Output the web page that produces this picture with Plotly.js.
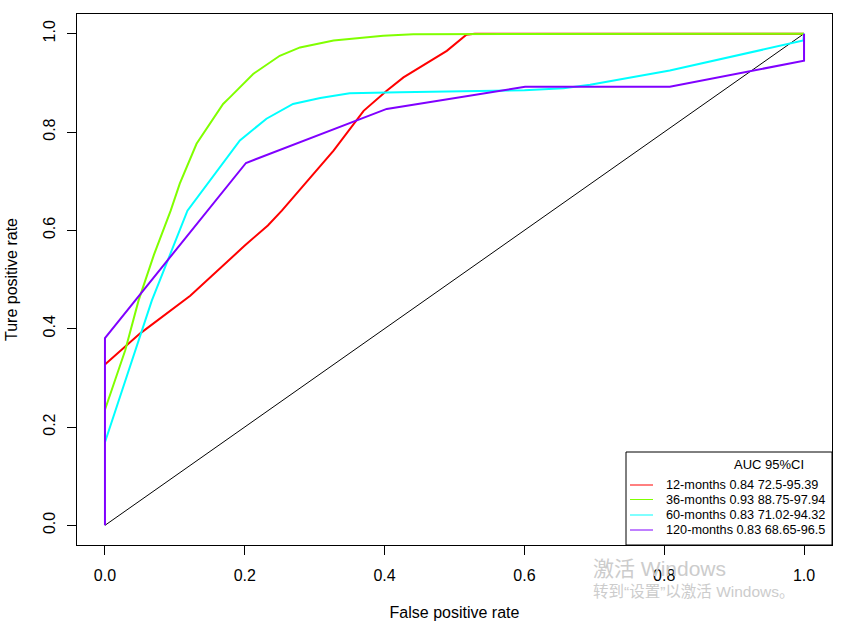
<!DOCTYPE html>
<html>
<head>
<meta charset="utf-8">
<script src="https://cdn.plot.ly/plotly-3.0.1.min.js"></script>
<style>html,body{margin:0;padding:0;background:#fff;}#chart{width:856px;height:623px;}</style>
</head>
<body>
<div id="chart"></div>
<script>
// Series (false positive rate, true positive rate)
const names = ["12-months 0.84 72.5-95.39", "36-months 0.93 88.75-97.94", "60-months 0.83 71.02-94.32", "120-months 0.83 68.65-96.5"];
const colors = ["#FF0000", "#80FF00", "#00FFFF", "#8000FF"];
const legendTitle = "AUC 95%CI";

const fpr12 = [0, 0.05, 0.122, 0.2, 0.233, 0.253, 0.327, 0.370, 0.403, 0.427, 0.489, 0.517, 0.529, 1];
const tpr12 = [0.327, 0.39, 0.467, 0.569, 0.61, 0.64, 0.762, 0.843, 0.884, 0.911, 0.965, 0.998, 1, 1];

const fpr36 = [0, 0.029, 0.048, 0.07, 0.094, 0.107, 0.131, 0.148, 0.169, 0.179, 0.212, 0.25, 0.279, 0.327, 0.398, 0.441, 1];
const tpr36 = [0.235, 0.356, 0.457, 0.55, 0.64, 0.695, 0.776, 0.813, 0.857, 0.871, 0.918, 0.955, 0.972, 0.986, 0.996, 0.999, 1];

const fpr60 = [0, 0.052, 0.067, 0.118, 0.193, 0.231, 0.269, 0.308, 0.350, 0.422, 0.6, 0.656, 0.694, 0.808, 0.999, 1];
const tpr60 = [0.169, 0.39, 0.457, 0.64, 0.783, 0.827, 0.857, 0.869, 0.879, 0.881, 0.885, 0.889, 0.896, 0.925, 0.986, 1];

const fpr120 = [0, 0, 0.2017, 0.403, 0.601, 0.808, 1, 1];
const tpr120 = [0, 0.381, 0.737, 0.847, 0.892, 0.892, 0.945, 1];

const diagX = [0, 1];
const diagY = [0, 1];

const tickVals = [0, 0.2, 0.4, 0.6, 0.8, 1.0];
const tickText = ["0.0", "0.2", "0.4", "0.6", "0.8", "1.0"];

const xs = [fpr12, fpr36, fpr60, fpr120];
const ys = [tpr12, tpr36, tpr60, tpr120];

const traces = [{
  x: diagX, y: diagY, type: "scatter", mode: "lines",
  line: {color: "#000000", width: 1}, showlegend: false, hoverinfo: "skip"
}];
for (let i = 0; i < 4; i++) {
  traces.push({
    x: xs[i], y: ys[i], type: "scatter", mode: "lines", name: names[i],
    line: {color: colors[i], width: 2}, showlegend: false
  });
}

// Plot area geometry (pixels) used to place the legend box in paper coordinates
const W = 856, H = 623, ML = 77, MR = 24, MT = 14, MB = 78;
const PW = W - ML - MR, PH = H - MT - MB;
const px = v => (v - ML) / PW;
const py = v => (H - MB - v) / PH;

const FAM = "Liberation Sans, Arial, sans-serif";
const shapes = [
  {type: "rect", xref: "paper", yref: "paper", x0: px(626), x1: px(832), y0: py(452), y1: py(545),
   line: {color: "#000", width: 1}, fillcolor: "#fff", layer: "above"}
];
const annotations = [
  {xref: "paper", yref: "paper", x: px(769), y: py(464), xanchor: "center", yanchor: "middle",
   text: legendTitle, showarrow: false, font: {family: FAM, size: 13, color: "#000"}}
];
const rowY = [485, 499.5, 515, 530];
for (let i = 0; i < names.length; i++) {
  shapes.push({type: "line", xref: "paper", yref: "paper", x0: px(630), x1: px(653), y0: py(rowY[i]), y1: py(rowY[i]),
    line: {color: colors[i], width: 1}, layer: "above"});
  annotations.push({xref: "paper", yref: "paper", x: px(664), y: py(rowY[i]), xanchor: "left", yanchor: "middle",
    text: names[i], showarrow: false, font: {family: FAM, size: 12.7, color: "#000"}});
}
annotations.push(
  {xref: "paper", yref: "paper", x: px(591), y: py(568), xanchor: "left", yanchor: "middle",
   text: "激活 Windows", showarrow: false, font: {family: "Liberation Sans, Noto Sans CJK SC, sans-serif", size: 21, color: "#cccccc"}},
  {xref: "paper", yref: "paper", x: px(591), y: py(591), xanchor: "left", yanchor: "middle",
   text: "转到“设置”以激活 Windows。", showarrow: false, font: {family: "Liberation Sans, Noto Sans CJK SC, sans-serif", size: 15.5, color: "#cccccc"}}
);

const layout = {
  width: W, height: H,
  margin: {l: ML, r: MR, t: MT, b: MB},
  paper_bgcolor: "#fff", plot_bgcolor: "#fff",
  font: {family: FAM, size: 16, color: "#000"},
  showlegend: false,
  xaxis: {
    range: [-0.04, 1.04], showgrid: false, zeroline: false,
    showline: true, mirror: true, linecolor: "#000", linewidth: 1,
    ticks: "outside", ticklen: 9, tickcolor: "#000", tickwidth: 1,
    tickvals: tickVals, ticktext: tickText, ticklabelstandoff: 7,
    tickfont: {family: FAM, size: 16, color: "#000"},
    title: {text: "False positive rate", font: {family: FAM, size: 16, color: "#000"}, standoff: 23},
    automargin: false
  },
  yaxis: {
    range: [-0.04, 1.04], showgrid: false, zeroline: false,
    showline: true, mirror: true, linecolor: "#000", linewidth: 1,
    ticks: "outside", ticklen: 9, tickcolor: "#000", tickwidth: 1,
    tickvals: tickVals, ticktext: tickText, tickangle: -90, ticklabelstandoff: 6,
    tickfont: {family: FAM, size: 16, color: "#000"},
    title: {text: "Ture positive rate", font: {family: FAM, size: 16, color: "#000"}, standoff: 18},
    automargin: false
  },
  shapes: shapes,
  annotations: annotations
};

Plotly.newPlot("chart", traces, layout, {displayModeBar: false, staticPlot: true});
</script>
</body>
</html>
